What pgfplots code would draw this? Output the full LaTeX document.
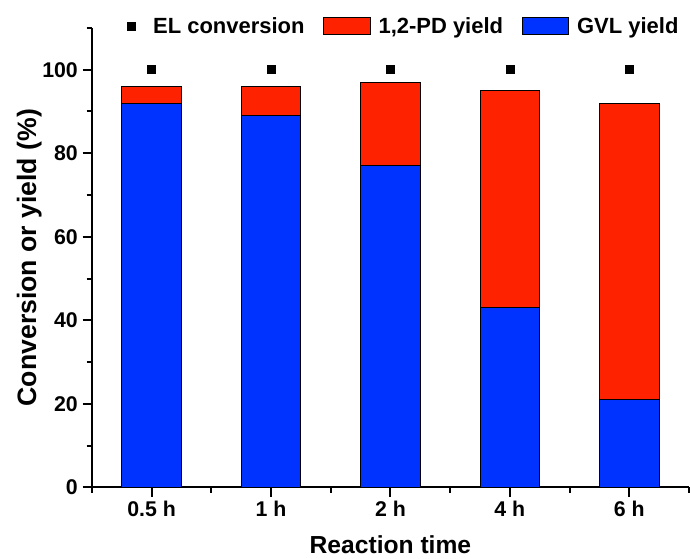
\documentclass[border=0pt]{standalone}
\usepackage{fontspec}
\setmainfont{Liberation Sans}
\usepackage{pgfplots}
\pgfplotsset{compat=1.18}

\definecolor{pdred}{RGB}{255,34,0}
\definecolor{gvlblue}{RGB}{0,51,255}

\pgfplotsset{
  boxlegend/.style={legend image code/.code={%
    \draw[##1] (0pt,-6.5pt) rectangle (35pt,6.5pt);}},
  marklegend/.style={legend image code/.code={%
    \path (0pt,0pt) (14pt,0pt);
    \draw[##1] plot coordinates {(4pt,0pt)};}},
}

\begin{document}
\begin{tikzpicture}
\begin{axis}[
  scale only axis,
  width=448.5pt, height=345pt,
  ybar stacked,
  bar width=0.5,
  xmin=-0.5, xmax=4.5,
  ymin=0, ymax=110,
  axis x line=bottom, axis y line=left,
  axis line style={-, line width=1.5pt},
  xtick={0,1,2,3,4},
  xticklabels={0.5 h,1 h,2 h,4 h,6 h},
  minor xtick={-0.5,0.5,1.5,2.5,3.5,4.5},
  ytick={0,20,40,60,80,100},
  minor ytick={10,30,50,70,90,110},
  tick align=outside,
  major tick length=7pt, minor tick length=4pt,
  tick style={line width=1.5pt, black},
  /pgf/number format/assume math mode=true,
  tick label style={font=\bfseries\fontsize{16}{19}\selectfont},
  xlabel={Reaction time},
  ylabel={Conversion or yield (\%)},
  xlabel style={font=\bfseries\fontsize{18.5}{22}\selectfont,
    at={([yshift=-43pt]axis description cs:0.5,0)}, anchor=center},
  ylabel style={font=\bfseries\fontsize{20}{24}\selectfont,
    at={([xshift=-47pt]axis description cs:0,0.5)}, anchor=center},
  reverse legend,
  legend columns=3,
  legend style={draw=none, fill=none, inner sep=0pt,
    at={(0.985,1.004)}, anchor=east,
    nodes={inner sep=1pt},
    font=\bfseries\fontsize{16.5}{20}\selectfont,
    /tikz/every even column/.append style={column sep=13pt},
    /tikz/every odd column/.append style={column sep=5pt}},
]
\addplot[fill=gvlblue, draw=black, line width=0.6pt, boxlegend]
  coordinates {(0,92) (1,89) (2,77) (3,43) (4,21)};
\addlegendentry{GVL yield}
\addplot[fill=pdred, draw=black, line width=0.6pt, boxlegend]
  coordinates {(0,4) (1,7) (2,20) (3,52) (4,71)};
\addlegendentry{1,2-PD yield}
\addplot[stack plots=false, sharp plot, only marks, mark=square*,
  mark size=3pt, black, marklegend]
  coordinates {(0,100) (1,100) (2,100) (3,100) (4,100)};
\addlegendentry{EL conversion}
\end{axis}
\path ([shift={(-69pt,-51pt)}]current axis.south west)
  rectangle ([shift={(0pt,21pt)}]current axis.north east);
\end{tikzpicture}
\end{document}
